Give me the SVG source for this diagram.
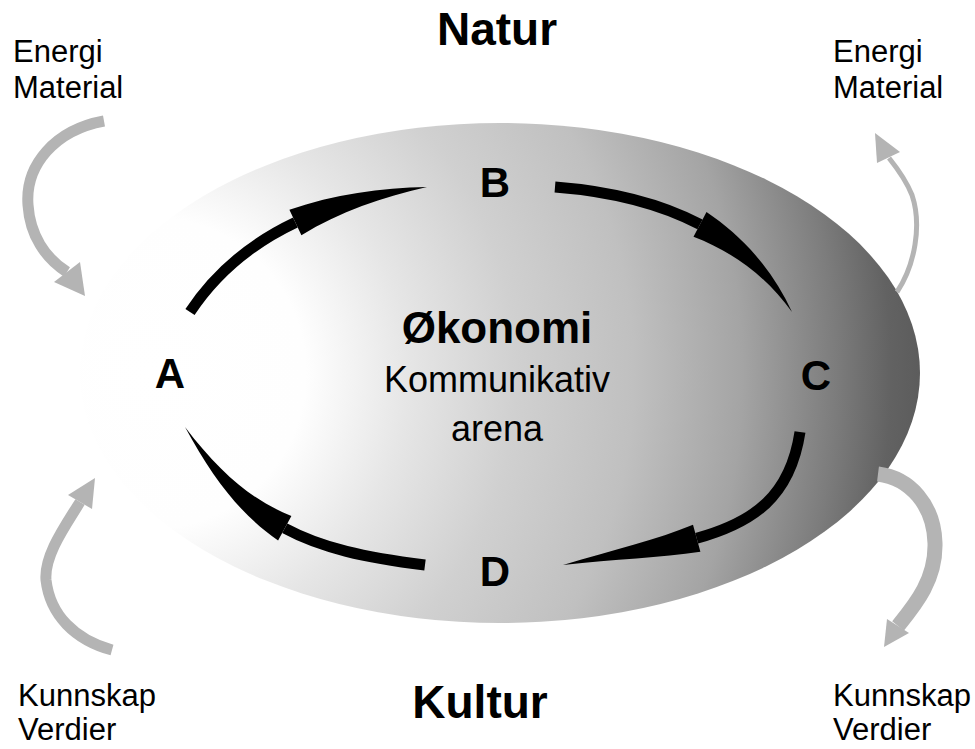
<svg xmlns="http://www.w3.org/2000/svg" width="975" height="749" viewBox="0 0 975 749">
  <defs>
    <radialGradient id="arenaFill" gradientUnits="userSpaceOnUse" cx="150" cy="373" r="780" fx="150" fy="373">
      <stop offset="0" stop-color="#ffffff"/>
      <stop offset="0.2" stop-color="#fefefe"/>
      <stop offset="0.33" stop-color="#e6e6e6"/>
      <stop offset="0.47" stop-color="#d0d0d0"/>
      <stop offset="0.62" stop-color="#c0c0c0"/>
      <stop offset="0.76" stop-color="#a4a4a4"/>
      <stop offset="0.88" stop-color="#7c7c7c"/>
      <stop offset="0.95" stop-color="#626262"/>
      <stop offset="1" stop-color="#5a5a5a"/>
    </radialGradient>
  </defs>
  <style>
    .lbl { font-family: "Liberation Sans", Arial, sans-serif; fill: #000; }
    .big { font-weight: bold; font-size: 46px; }
    .node { font-weight: bold; font-size: 42px; text-anchor: middle; }
    .side { font-size: 31px; }
    .center { text-anchor: middle; }
    .shaft { fill: none; stroke: #000; stroke-width: 11; stroke-linecap: butt; }
    .head { fill: #000; stroke: none; }
    .flow { fill: none; stroke: #b4b4b4; stroke-linecap: butt; }
    .flowhead { fill: #b4b4b4; }
  </style>
  <rect width="975" height="749" fill="#ffffff"/>

  <g id="arena">
    <ellipse cx="500" cy="373" rx="420" ry="250" fill="url(#arenaFill)"/>
  </g>

  <g id="outer-flows">
    <path class="flow" stroke-width="11" d="M104,121 C55,130 25,165 28,205 C30,235 45,258 67,272"/>
    <polygon class="flowhead" points="54,282 80,262 85,296"/>
    <path class="flow" stroke-width="5" stroke="#c4c4c4" d="M897,292 C915,265 922,225 912,195 C906,180 897,168 889,158"/>
    <polygon class="flowhead" fill="#c4c4c4" points="875,133 877,163 900,152"/>
    <path class="flow" stroke-width="11" d="M112,650 C75,640 50,615 46,580 C44,555 66,525 80,502"/>
    <polygon class="flowhead" points="92,509 68,495 95,478"/>
    <path class="flow" stroke-width="15" stroke="#a8a8a8" d="M878,474 C910,478 934,505 935,543 C936,580 915,605 898,626"/>
    <polygon class="flowhead" fill="#a8a8a8" points="909,633 887,619 884,647"/>
  </g>

  <g id="connectors">
    <g id="arrow-A-B">
      <path class="shaft" d="M190,312 C217.5,270.5 254.25,242 295.4,222.5"/>
      <path class="head" d="M289.4,209.8 C333.5,194.2 381.2,187.9 427,187 C382.8,197.1 339.5,211.8 301.4,235.2 Z"/>
    </g>
    <g id="arrow-B-C">
      <path class="shaft" d="M555,187 C604.5,190.85 655.5,201.05 700,224.45"/>
      <path class="head" d="M706.5,212.1 C741.7,235.9 772.2,268.5 792,312 C765,274.5 731.2,251.3 693.5,236.8 Z"/>
    </g>
    <g id="arrow-C-D">
      <path class="shaft" d="M800,432 C790.1,497.4 752.6,522.8 696.7,538.3"/>
      <path class="head" d="M700.4,551.8 C661.2,557.8 614.8,559.2 563,565 C613.2,550 657.6,539.6 693,524.8 Z"/>
    </g>
    <g id="arrow-D-A">
      <path class="shaft" d="M425,565 C365.5,557.5 321.75,548.25 284.75,528.25"/>
      <path class="head" d="M278.1,540.6 C242.2,515.7 213.8,480.4 185,427 C221.2,474.6 253.3,500.8 291.4,515.9 Z"/>
    </g>
  </g>

  <g id="node-A"><text class="lbl node" x="170" y="388">A</text></g>
  <g id="node-B"><text class="lbl node" x="495" y="197">B</text></g>
  <g id="node-C"><text class="lbl node" x="816" y="390">C</text></g>
  <g id="node-D"><text class="lbl node" x="495" y="586">D</text></g>

  <g id="center">
    <text class="lbl center" x="497" y="343" font-weight="bold" font-size="44">Økonomi</text>
    <text class="lbl center" x="497" y="392" font-size="36">Kommunikativ</text>
    <text class="lbl center" x="497" y="441" font-size="36">arena</text>
  </g>

  <g id="natur"><text class="lbl big center" x="497" y="45">Natur</text></g>
  <g id="kultur"><text class="lbl big center" x="480" y="718">Kultur</text></g>

  <g id="label-top-left">
    <text class="lbl side" x="13" y="62">Energi</text>
    <text class="lbl side" x="13" y="98">Material</text>
  </g>
  <g id="label-top-right">
    <text class="lbl side" x="833" y="62">Energi</text>
    <text class="lbl side" x="833" y="98">Material</text>
  </g>
  <g id="label-bottom-left">
    <text class="lbl side" x="18" y="706">Kunnskap</text>
    <text class="lbl side" x="18" y="740">Verdier</text>
  </g>
  <g id="label-bottom-right">
    <text class="lbl side" x="833" y="706">Kunnskap</text>
    <text class="lbl side" x="833" y="740">Verdier</text>
  </g>
</svg>
